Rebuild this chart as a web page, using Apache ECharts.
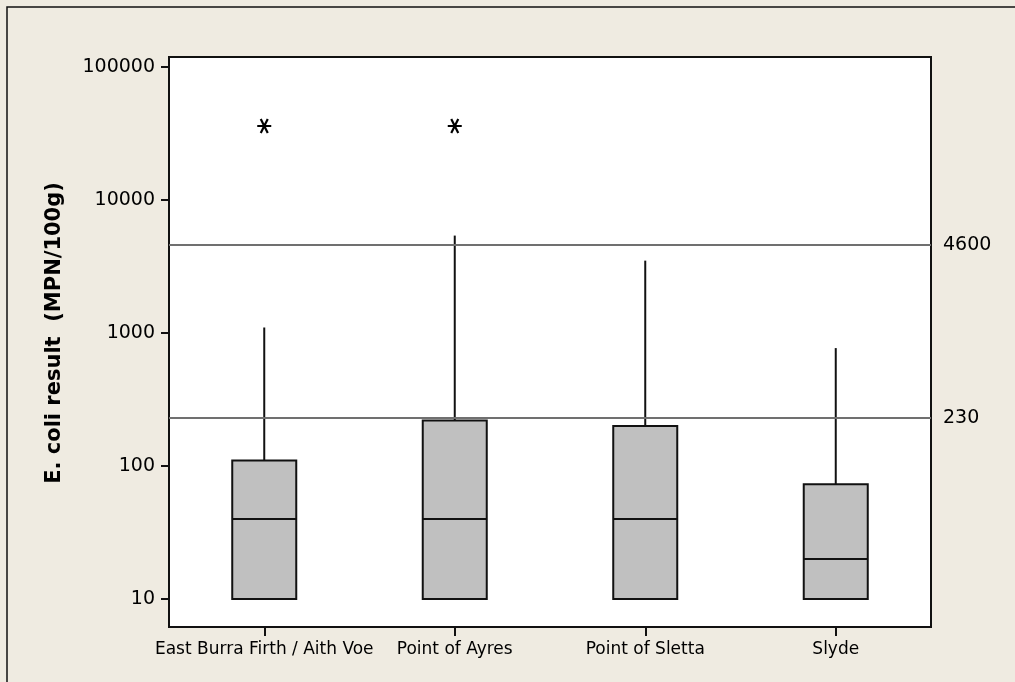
<!DOCTYPE html>
<html>
<head>
<meta charset="utf-8">
<script src="https://cdn.jsdelivr.net/npm/echarts@6/dist/echarts.min.js"></script>
<style>
html,body{margin:0;padding:0;background:#efebe1;}
#chart{width:1015px;height:682px;}
</style>
</head>
<body>
<div id="chart"></div>
<script>
// ---- data ----
const categories = ['East Burra Firth / Aith Voe', 'Point of Ayres', 'Point of Sletta', 'Slyde'];
const whiskerLow = [10, 10, 10, 10];
const q1 = [10, 10, 10, 10];
const median = [40, 40, 40, 20];
const q3 = [110, 220, 200, 73];
const whiskerHigh = [1100, 5400, 3500, 770];
const outliers = [[0, 36000], [1, 36000]];
const refLines = [4600, 230];
const yTicks = [10, 100, 1000, 10000, 100000];

const boxData = categories.map((c, i) => [i, whiskerLow[i], q1[i], median[i], q3[i], whiskerHigh[i]]);

const font = 'DejaVu Sans';
const chart = echarts.init(document.getElementById('chart'), null, {renderer: 'canvas'});

chart.setOption({
  backgroundColor: '#efebe1',
  animation: false,
  graphic: [{
    type: 'polyline',
    shape: {points: [[7, 690], [7, 7], [1020, 7]]},
    style: {stroke: '#111', lineWidth: 1.5, fill: null},
    silent: true
  }],
  grid: [
    {left: 169, top: 67, width: 762, height: 532, show: false},
    {left: 169, top: 57, width: 762, height: 570, show: true, backgroundColor: '#ffffff', borderColor: '#111', borderWidth: 2, z: 0}
  ],
  xAxis: [
    {
      type: 'category', gridIndex: 0, data: categories, offset: 28,
      axisLine: {show: false},
      axisTick: {show: true, alignWithLabel: true, length: 9, lineStyle: {color: '#111', width: 2}},
      axisLabel: {color: '#000', fontFamily: font, fontSize: 17, margin: 14, interval: 0},
      splitLine: {show: false}
    },
    {type: 'value', gridIndex: 1, show: false, min: 0, max: 1}
  ],
  yAxis: [
    {
      type: 'log', gridIndex: 0, logBase: 10, min: 10, max: 100000,
      name: 'E. coli result  (MPN/100g)', nameLocation: 'middle', nameGap: 104,
      nameTextStyle: {color: '#000', fontFamily: font, fontSize: 21, fontWeight: 'bold'},
      axisLine: {show: false},
      axisTick: {show: true, length: 8, lineStyle: {color: '#111', width: 2}},
      axisLabel: {color: '#000', fontFamily: font, fontSize: 19, margin: 14,
        formatter: v => (yTicks.includes(Math.round(v)) ? String(Math.round(v)) : '')},
      splitLine: {show: false}
    },
    {type: 'value', gridIndex: 1, show: false, min: 0, max: 1}
  ],
  series: [
    {
      type: 'custom',
      xAxisIndex: 0, yAxisIndex: 0,
      data: boxData,
      encode: {x: 0, y: [1, 2, 3, 4, 5]},
      z: 3,
      renderItem: function (params, api) {
        const i = api.value(0);
        const pLow = api.coord([i, api.value(1)]);
        const pQ1 = api.coord([i, api.value(2)]);
        const pMed = api.coord([i, api.value(3)]);
        const pQ3 = api.coord([i, api.value(4)]);
        const pHigh = api.coord([i, api.value(5)]);
        const w = params.coordSys.width / categories.length * 0.336;
        const x = pMed[0];
        const ls = {stroke: '#111', lineWidth: 2};
        return {
          type: 'group',
          children: [
            {type: 'line', shape: {x1: x, y1: pQ3[1], x2: x, y2: pHigh[1]}, style: ls},
            {type: 'line', shape: {x1: x, y1: pQ1[1], x2: x, y2: pLow[1]}, style: ls},
            {type: 'rect', shape: {x: x - w / 2, y: pQ3[1], width: w, height: pQ1[1] - pQ3[1]},
              style: {fill: '#c0c0c0', stroke: '#111', lineWidth: 2}},
            {type: 'line', shape: {x1: x - w / 2, y1: pMed[1], x2: x + w / 2, y2: pMed[1]}, style: ls}
          ]
        };
      }
    },
    {
      type: 'scatter',
      xAxisIndex: 0, yAxisIndex: 0,
      data: outliers,
      symbol: 'path://M0,7L14,7M3.5,0.9L10.5,13.1M10.5,0.9L3.5,13.1',
      symbolSize: [14, 14],
      itemStyle: {color: 'rgba(0,0,0,0)', borderColor: '#000', borderWidth: 2.2, opacity: 1},
      z: 4,
      markLine: {
        silent: true,
        symbol: 'none',
        lineStyle: {color: '#707070', width: 2, type: 'solid'},
        label: {show: true, position: 'end', distance: 12, color: '#000', fontFamily: font, fontSize: 19,
          formatter: p => String(p.value)},
        data: refLines.map(v => ({yAxis: v}))
      }
    }
  ]
});
</script>
</body>
</html>
